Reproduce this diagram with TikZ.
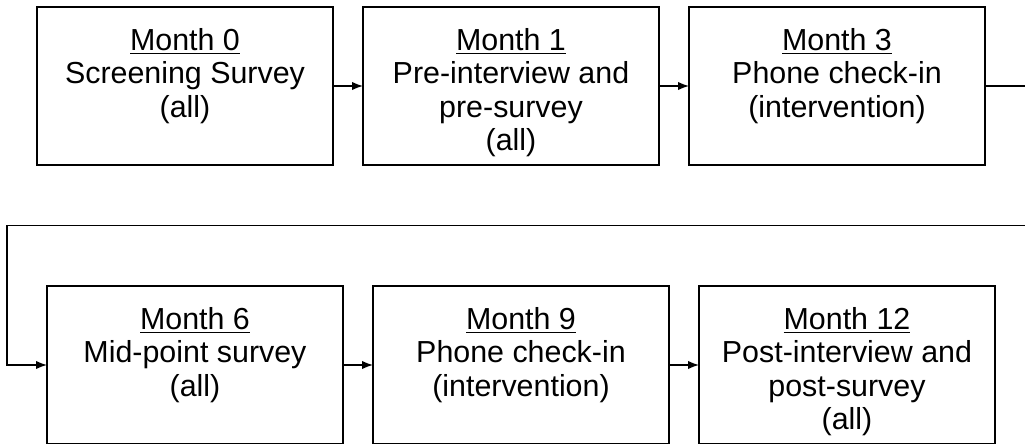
\documentclass[tikz,border=0pt]{standalone}
\usepackage{fontspec}
\setmainfont{Liberation Sans}
\usetikzlibrary{arrows.meta,calc,positioning}
\definecolor{boxColor}{RGB}{255,255,255}
\newcommand{\stagetext}[2]{\parbox[c][79pt][t]{148pt}{\vspace*{10.5pt}\centering\fontsize{15.2pt}{16.8pt}\selectfont\underline{#1}\\ #2}}
\tikzset{stage/.append style={fill=boxColor, draw, line width=1pt, inner sep=0pt, outer sep=0pt}}
\tikzstyle{arrow} = [-{Latex[length=5.5pt,width=4.2pt]}, line width=0.7pt]

\begin{document}
\begin{tikzpicture}[node distance=15pt and 15pt]
	\useasboundingbox (0,0) rectangle (512.5pt,-222pt);
	% Nodes
		\node (month0) [stage, anchor=north west] at (18.5pt,-3.5pt) {\stagetext{Month 0}{Screening Survey\\ (all)}};
		\node (month1) [stage, right=of month0] {\stagetext{Month 1}{Pre-interview and\\ pre-survey\\ (all)}};
		\node (month3) [stage, right=of month1] {\stagetext{Month 3}{Phone check-in\\ (intervention)}};

		\node (month6) [stage, below=60.5pt of month0, xshift=5pt] {\stagetext{Month 6}{Mid-point survey\\ (all)}};
		\node (month9) [stage, right=of month6] {\stagetext{Month 9}{Phone check-in\\ (intervention)}};
		\node (month12) [stage, right=of month9] {\stagetext{Month 12}{Post-interview and\\ post-survey\\ (all)}};

		\coordinate (rowgap) at ($(month3.south)!0.5!(month6.north)$);

		% Connectors
		\begin{scope}[->]

		\draw [arrow] (month0) -- (month1);
		\draw [arrow] (month1) -- (month3);
		\draw [arrow] (month3.east) -- ++(25pt,0) |- (rowgap) -| ([xshift=-20pt]month6.west) -- (month6.west);
		\draw [arrow] (month6) -- (month9);
		\draw [arrow] (month9) -- (month12);

		\end{scope}

\end{tikzpicture}
\end{document}
